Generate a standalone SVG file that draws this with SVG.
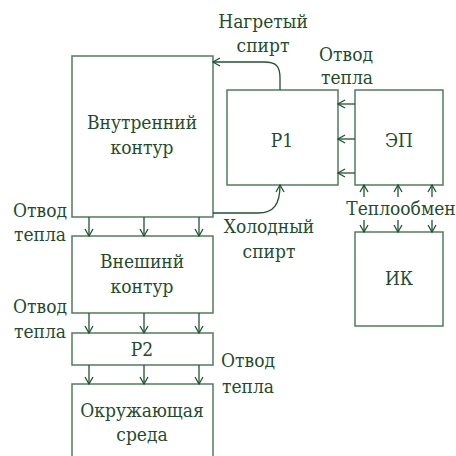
<svg xmlns="http://www.w3.org/2000/svg" width="456" height="456" viewBox="0 0 456 456">
<style>
.box{fill:#fff;stroke:#4f7d5c;stroke-width:1.5}
.t{font-family:'DejaVu Serif Condensed','DejaVu Serif',serif;font-stretch:condensed;font-size:19px;fill:#1f4d2c;text-anchor:middle}
.c{fill:none;stroke:#1f5230;stroke-width:1.3}
</style>
<defs>
<marker id="ah" markerWidth="10" markerHeight="10" refX="8" refY="5" orient="auto" markerUnits="userSpaceOnUse">
<path d="M1,1 L8,5 L1,9" fill="none" stroke="#1f5230" stroke-width="1.3"/>
</marker>
</defs>
<rect width="456" height="456" fill="#fff"/>
<g id="inner"><rect class="box" x="72" y="56" width="141" height="161"/><text class="t" x="142" y="129">Внутренний</text><text class="t" x="142" y="154">контур</text></g>
<g id="p1"><rect class="box" x="227" y="90" width="111" height="95"/><text class="t" x="282" y="147">P1</text></g>
<g id="ep"><rect class="box" x="355" y="90" width="88" height="95"/><text class="t" x="399" y="147">ЭП</text></g>
<g id="ik"><rect class="box" x="355" y="232" width="88" height="94"/><text class="t" x="399" y="285">ИК</text></g>
<g id="outer"><rect class="box" x="72" y="236" width="141" height="77"/><text class="t" x="142" y="268">Внешинй</text><text class="t" x="142" y="293">контур</text></g>
<g id="p2"><rect class="box" x="72" y="333" width="141" height="32"/><text class="t" x="142" y="356">P2</text></g>
<g id="env"><rect class="box" x="72" y="384" width="141" height="80"/><text class="t" x="142" y="417">Окружающая</text><text class="t" x="142" y="441">среда</text></g>
<g id="labels">
<text class="t" x="263" y="28">Нагретый</text><text class="t" x="263" y="52">спирт</text>
<text class="t" x="346" y="61">Отвод</text><text class="t" x="347" y="84">тепла</text>
<text class="t" x="269" y="233">Холодный</text><text class="t" x="269" y="258">спирт</text>
<text class="t" x="401" y="215">Теплообмен</text>
<text class="t" x="40" y="217">Отвод</text><text class="t" x="40" y="241">тепла</text>
<text class="t" x="40" y="313">Отвод</text><text class="t" x="40" y="338">тепла</text>
<text class="t" x="248" y="367">Отвод</text><text class="t" x="248" y="393">тепла</text>
</g>
<g id="connectors">
<path class="c" marker-end="url(#ah)" d="M280,90 L280,78 C280,66 276,62 264,62 L213,62"/>
<path class="c" marker-end="url(#ah)" d="M213,213 L258,213 C274,213 280,204 280,185"/>
<path class="c" marker-end="url(#ah)" d="M355,104 L338,104"/>
<path class="c" marker-end="url(#ah)" d="M355,139 L338,139"/>
<path class="c" marker-end="url(#ah)" d="M355,173 L338,173"/>
<path class="c" marker-end="url(#ah)" d="M364,197 L364,185"/>
<path class="c" marker-end="url(#ah)" d="M398,197 L398,185"/>
<path class="c" marker-end="url(#ah)" d="M432,197 L432,185"/>
<path class="c" marker-end="url(#ah)" d="M364,220 L364,232"/>
<path class="c" marker-end="url(#ah)" d="M398,220 L398,232"/>
<path class="c" marker-end="url(#ah)" d="M432,220 L432,232"/>
<path class="c" marker-end="url(#ah)" d="M89,217 L89,236"/>
<path class="c" marker-end="url(#ah)" d="M144,217 L144,236"/>
<path class="c" marker-end="url(#ah)" d="M199,217 L199,236"/>
<path class="c" marker-end="url(#ah)" d="M89,313 L89,333"/>
<path class="c" marker-end="url(#ah)" d="M144,313 L144,333"/>
<path class="c" marker-end="url(#ah)" d="M199,313 L199,333"/>
<path class="c" marker-end="url(#ah)" d="M89,365 L89,384"/>
<path class="c" marker-end="url(#ah)" d="M144,365 L144,384"/>
<path class="c" marker-end="url(#ah)" d="M199,365 L199,384"/>
</g>
</svg>
